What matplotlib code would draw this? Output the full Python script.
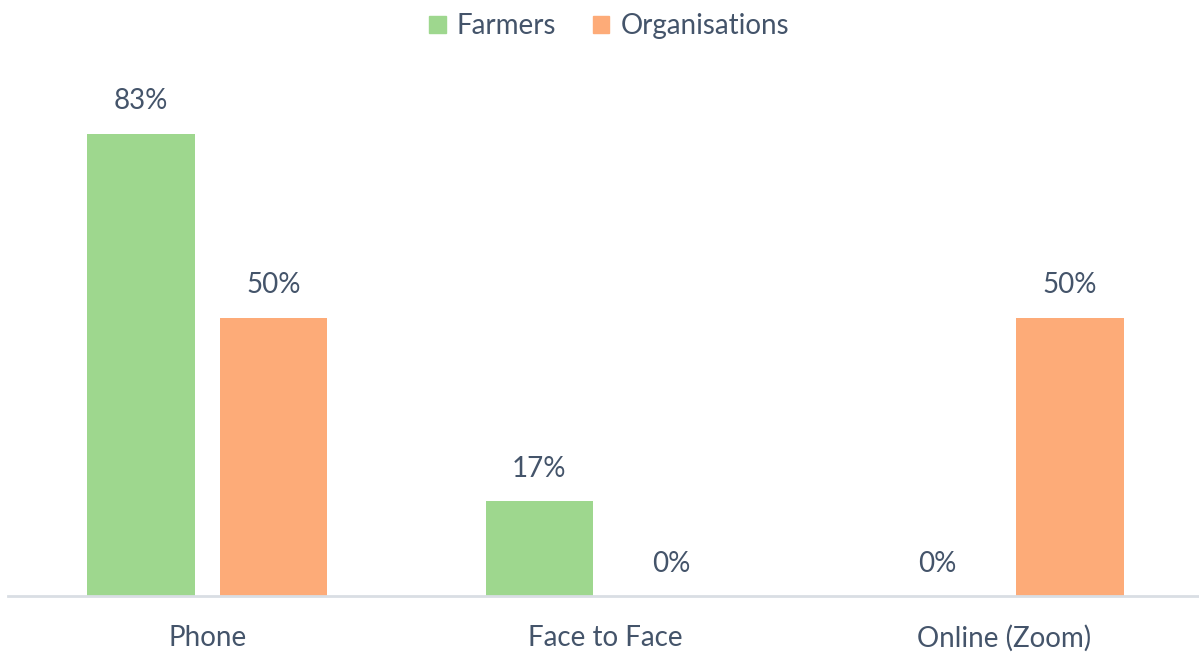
import matplotlib
matplotlib.use("Agg")
import matplotlib.pyplot as plt
import numpy as np
from matplotlib.patches import Patch

categories = ["Phone", "Face to Face", "Online (Zoom)"]
farmers = [83, 17, 0]
organisations = [50, 0, 50]
series_names = ["Farmers", "Organisations"]

green = "#9ED78E"
orange = "#FDAB78"
txt = "#44546A"

plt.rcParams['font.family'] = ['Lato', 'DejaVu Sans']

fig = plt.figure(figsize=(11.99, 6.56), dpi=100)
ax = fig.add_axes([8/1199, 60/656, 1191/1199, 557/656])

x = np.arange(len(categories))
w = 0.269
off = 0.166
b1 = ax.bar(x - off, farmers, w, color=green, zorder=2)
b2 = ax.bar(x + off, organisations, w, color=orange, zorder=2)

for bars, vals in ((b1, farmers), (b2, organisations)):
    for r, v in zip(bars, vals):
        ax.annotate(f"{v}%", (r.get_x() + r.get_width()/2, v),
                    xytext=(0, 14), textcoords="offset points",
                    ha="center", va="bottom", fontsize=20, color=txt)

ax.set_xlim(-0.5, 2.49)
ax.set_ylim(0, 100)
ax.set_xticks(x)
ax.set_xticklabels(categories, fontsize=20, color=txt)
ax.tick_params(axis='x', length=0, pad=21)
ax.set_yticks([])
for s in ["top", "right", "left"]:
    ax.spines[s].set_visible(False)
ax.spines["bottom"].set_color("#D9DEE4")
ax.spines["bottom"].set_linewidth(2)

handles = [Patch(color=green), Patch(color=orange)]
fig.legend(handles, series_names, loc="center", bbox_to_anchor=(0.508, 0.96),
           ncol=2, frameon=False, fontsize=20, labelcolor=txt,
           handlelength=0.6, handleheight=0.6, handletextpad=0.4, columnspacing=1.3)

fig.savefig("out.png", dpi=100)
